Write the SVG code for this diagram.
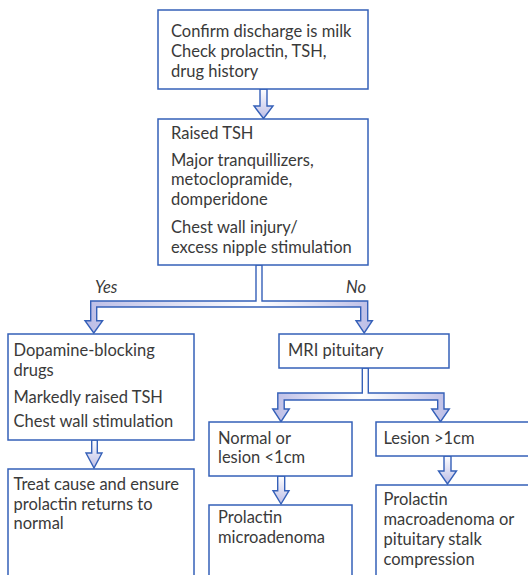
<svg xmlns="http://www.w3.org/2000/svg" width="528" height="575" viewBox="0 0 528 575">
<defs>
<linearGradient id="gv" x1="0" y1="0" x2="0" y2="1">
<stop offset="0" stop-color="#ffffff"/>
<stop offset="1" stop-color="#bcbde6"/>
</linearGradient>
<linearGradient id="gh1" gradientUnits="userSpaceOnUse" x1="85" y1="0" x2="372" y2="0">
<stop offset="0" stop-color="#bcbde6"/>
<stop offset="0.6" stop-color="#ffffff"/>
<stop offset="1" stop-color="#bcbde6"/>
</linearGradient>
<linearGradient id="gh2" gradientUnits="userSpaceOnUse" x1="272" y1="0" x2="450" y2="0">
<stop offset="0" stop-color="#bcbde6"/>
<stop offset="0.5" stop-color="#ffffff"/>
<stop offset="1" stop-color="#bcbde6"/>
</linearGradient>
<style>
.box{fill:#ffffff;stroke:#3560b8;stroke-width:1.5}
.con{stroke:#3560b8;stroke-width:1.4;stroke-linejoin:miter}
text{font-family:Lato,"Open Sans","Liberation Sans",sans-serif;font-size:16.5px;fill:#3a3a3a}
.lab{font-style:italic}
</style>
</defs>
<g id="connectors">
<path class="con" fill="url(#gv)" d="M260,89 V106 H254 L263.5,118.5 L273,106 H267 V89 Z"/>
<path class="con" fill="url(#gh1)" d="M256,265 V301 H90.7 V320.7 H85 L93.8,333 L102.6,320.7 H96.7 V307 H360.7 V320.7 H356 L364.2,333 L372.4,320.7 H367.7 V301 H262 V265 Z"/>
<path class="con" fill="url(#gv)" d="M91.7,440 V453 H86 L94,468 L102,453 H97.3 V440 Z"/>
<path class="con" fill="url(#gh2)" d="M362.3,368 V393 H277.8 V409 H272.7 L281,421.7 L289.3,409 H284.2 V400 H437.7 V409 H431.7 L440.5,421.7 L449.3,409 H444 V393 H368.3 V368 Z"/>
<path class="con" fill="url(#gv)" d="M277.7,476 V490.7 H273 L281,504 L289,490.7 H284.7 V476 Z"/>
<path class="con" fill="url(#gv)" d="M444,456 V471 H438.5 L447.5,484 L456.5,471 H451 V456 Z"/>
<text class="lab" x="95" y="293">Yes</text>
<text class="lab" x="346" y="293">No</text>
</g>
<g id="n1">
<rect class="box" x="158" y="10" width="210" height="79"/>
<text x="171" y="37">Confirm discharge is milk</text>
<text x="171" y="57">Check prolactin, TSH,</text>
<text x="171" y="77">drug history</text>
</g>
<g id="n2">
<rect class="box" x="158" y="119" width="210" height="146"/>
<text x="171" y="139">Raised TSH</text>
<text x="171" y="165.5">Major tranquillizers,</text>
<text x="171" y="185">metoclopramide,</text>
<text x="171" y="205">domperidone</text>
<text x="171" y="232.5">Chest wall injury/</text>
<text x="171" y="252.5">excess nipple stimulation</text>
</g>
<g id="n3">
<rect class="box" x="8" y="334" width="186" height="106"/>
<text x="13.5" y="356">Dopamine-blocking</text>
<text x="13.5" y="375.5">drugs</text>
<text x="13.5" y="403">Markedly raised TSH</text>
<text x="13.5" y="427">Chest wall stimulation</text>
</g>
<g id="n4">
<rect class="box" x="8" y="469" width="186" height="120"/>
<text x="13.5" y="490">Treat cause and ensure</text>
<text x="13.5" y="510">prolactin returns to</text>
<text x="13.5" y="529">normal</text>
</g>
<g id="n5">
<rect class="box" x="279" y="334" width="170" height="34"/>
<text x="288" y="356">MRI pituitary</text>
</g>
<g id="n6">
<rect class="box" x="209" y="422" width="143" height="54"/>
<text x="218" y="444">Normal or</text>
<text x="218" y="463">lesion &lt;1cm</text>
</g>
<g id="n7">
<rect class="box" x="376" y="422" width="170" height="34"/>
<text x="383.5" y="444">Lesion &gt;1cm</text>
</g>
<g id="n8">
<rect class="box" x="209" y="505" width="143" height="84"/>
<text x="218" y="523">Prolactin</text>
<text x="218" y="543">microadenoma</text>
</g>
<g id="n9">
<rect class="box" x="376" y="485" width="170" height="104"/>
<text x="383.5" y="505">Prolactin</text>
<text x="383.5" y="525">macroadenoma or</text>
<text x="383.5" y="545">pituitary stalk</text>
<text x="383.5" y="565">compression</text>
</g>
</svg>
